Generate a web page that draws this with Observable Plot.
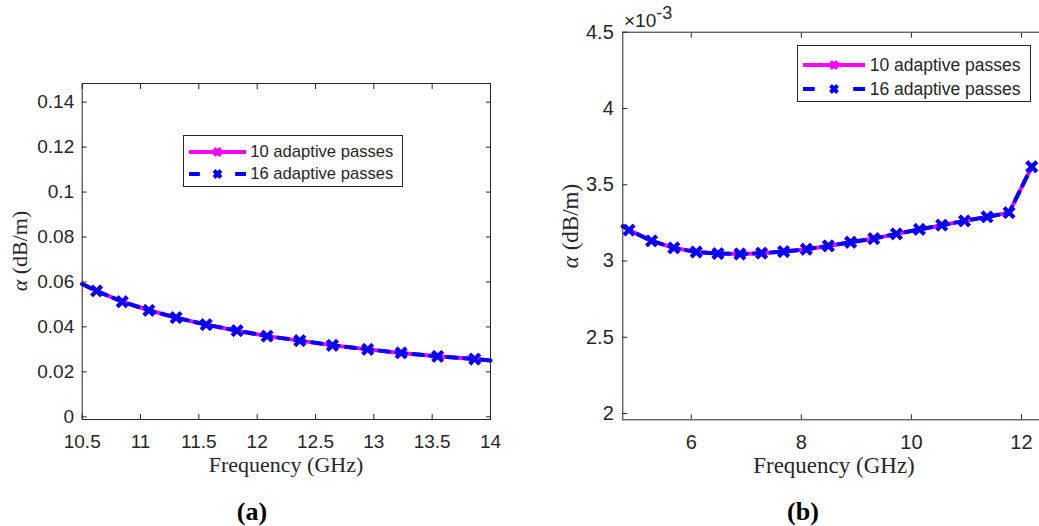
<!DOCTYPE html>
<html><head><meta charset="utf-8">
<script src="https://cdn.jsdelivr.net/npm/d3@7"></script>
<script src="https://cdn.jsdelivr.net/npm/@observablehq/plot@0.6"></script>
<style>
html,body{margin:0;padding:0;background:#fff;overflow:hidden;width:1039px;height:526px;}
#root{position:relative;width:1039px;height:526px;overflow:hidden;}
.abs{position:absolute;white-space:nowrap;line-height:1;}
.serif{font-family:"Liberation Serif","Times New Roman",serif;color:#262626;}
.ctr{transform:translate(-50%,-50%);}
.rot{transform:translate(-50%,-50%) rotate(-90deg);}
.legend{position:absolute;box-sizing:border-box;border:1px solid #262626;background:#fff;font-family:"Liberation Sans",Arial,sans-serif;color:#262626;}
.legend .row{position:absolute;left:0;display:flex;align-items:center;}
.legend svg{display:block;overflow:visible;}
</style>
</head><body><div id="root"></div>
<script>
// ---------- Panel (a) data ----------
const freqA = [10.5, 10.623, 10.843, 11.071, 11.305, 11.563, 11.828, 12.085, 12.365, 12.645, 12.947, 13.234, 13.547, 13.865, 14.0];
const alphaA10 = [0.0591, 0.0560, 0.0512, 0.0474, 0.0441, 0.0410, 0.0383, 0.0359, 0.0339, 0.0318, 0.0300, 0.0284, 0.0269, 0.0257, 0.0251];
const alphaA16 = [0.0591, 0.0560, 0.0512, 0.0474, 0.0441, 0.0410, 0.0383, 0.0359, 0.0339, 0.0318, 0.0300, 0.0284, 0.0269, 0.0257, 0.0251];
const markerA = [0, 1, 1, 1, 1, 1, 1, 1, 1, 1, 1, 1, 1, 1, 0];
const xTicksA = [10.5, 11, 11.5, 12, 12.5, 13, 13.5, 14];
const yTicksA = [0, 0.02, 0.04, 0.06, 0.08, 0.1, 0.12, 0.14];

// ---------- Panel (b) data (dB/m) ----------
const freqB = [4.756, 4.87, 5.278, 5.684, 6.091, 6.484, 6.884, 7.278, 7.678, 8.091, 8.491, 8.896, 9.315, 9.727, 10.145, 10.551, 10.964, 11.375, 11.775, 12.187];
const alphaB10 = [3.228e-3, 3.203e-3, 3.132e-3, 3.086e-3, 3.059e-3, 3.049e-3, 3.046e-3, 3.051e-3, 3.062e-3, 3.077e-3, 3.099e-3, 3.123e-3, 3.147e-3, 3.178e-3, 3.207e-3, 3.235e-3, 3.263e-3, 3.289e-3, 3.317e-3, 3.618e-3];
const alphaB16 = [3.228e-3, 3.203e-3, 3.132e-3, 3.086e-3, 3.059e-3, 3.049e-3, 3.046e-3, 3.051e-3, 3.062e-3, 3.077e-3, 3.099e-3, 3.123e-3, 3.147e-3, 3.178e-3, 3.207e-3, 3.235e-3, 3.263e-3, 3.289e-3, 3.317e-3, 3.618e-3];
const markerB = [0, 1, 1, 1, 1, 1, 1, 1, 1, 1, 1, 1, 1, 1, 1, 1, 1, 1, 1, 1];
const xTicksB = [6, 8, 10, 12];
const yTicksB = [2.0e-3, 2.5e-3, 3.0e-3, 3.5e-3, 4.0e-3, 4.5e-3];

const seriesNames = ["10 adaptive passes", "16 adaptive passes"];
const MAGENTA = "#ff00ff", BLUE = "#0000ff", AX = "#262626";

function panel(o) {
  const d10 = o.freq.map((f, i) => ({f, a: o.s10[i], m: o.mk[i]}));
  const d16 = o.freq.map((f, i) => ({f, a: o.s16[i], m: o.mk[i]}));
  return Plot.plot({
    width: o.width, height: o.height,
    marginLeft: o.ml, marginRight: o.mr, marginTop: o.mt, marginBottom: o.mb,
    style: {fontFamily: "Liberation Sans, Arial, sans-serif", fontSize: o.fs + "px", color: AX, background: "transparent", overflow: "visible"},
    x: {domain: o.xDomain},
    y: {domain: o.yDomain},
    marks: [
      Plot.line(d10, {x: "f", y: "a", stroke: MAGENTA, strokeWidth: 4}),
      Plot.dot(d10.filter(d => d.m), {x: "f", y: "a", symbol: "times", r: 4.6, stroke: MAGENTA, strokeWidth: 4}),
      Plot.line(d16, {x: "f", y: "a", stroke: BLUE, strokeWidth: 4, strokeDasharray: "10,7"}),
      Plot.dot(d16.filter(d => d.m), {x: "f", y: "a", symbol: "times", r: 4.6, stroke: BLUE, strokeWidth: 4}),
      Plot.axisX({anchor: "bottom", ticks: o.xTicks, tickSize: -5, tickPadding: o.xPad + 5, label: null, tickFormat: d => d3.format("~g")(d), stroke: AX}),
      Plot.axisX({anchor: "top", ticks: o.xTicks, tickSize: -5, tickFormat: () => "", label: null, stroke: AX}),
      Plot.axisY({anchor: "left", ticks: o.yTicks, tickSize: -5, tickPadding: o.yPad + 5, label: null, tickFormat: o.yFmt, stroke: AX}),
      Plot.axisY({anchor: "right", ticks: o.yTicks, tickSize: -5, tickFormat: () => "", label: null, stroke: AX}),
      Plot.frame({stroke: AX, strokeWidth: 1})
    ]
  });
}

const root = document.getElementById("root");
function place(el, left, top) {
  el.style.position = "absolute"; el.style.left = left + "px"; el.style.top = top + "px";
  root.appendChild(el);
}

// Panel (a): frame x 81.7..490, y 83..419
const pa = panel({
  freq: freqA, s10: alphaA10, s16: alphaA16, mk: markerA,
  xDomain: [10.5, 14], yDomain: [-0.0012, 0.1483],
  xTicks: xTicksA, yTicks: yTicksA, yFmt: d => d3.format("~g")(d),
  width: 520, height: 460, ml: 81.7, mr: 30, mt: 83, mb: 41, fs: 19, xPad: 15, yPad: 8
});
place(pa, 0, 0);

// Panel (b): frame x 622.3..1045, y 31.7..419.3
const pb = panel({
  freq: freqB, s10: alphaB10, s16: alphaB16, mk: markerB,
  xDomain: [4.756, 12.442], yDomain: [1.959e-3, 4.5e-3],
  xTicks: xTicksB, yTicks: yTicksB, yFmt: d => d3.format("~g")(+(d * 1e3).toFixed(3)),
  width: 540, height: 460, ml: 102.3, mr: 14.7, mt: 31.7, mb: 40.7, fs: 20, xPad: 15, yPad: 9
});
place(pb, 520, 0);

function label(html, cls, x, y, size, extra) {
  const el = document.createElement("div");
  el.className = "abs serif " + cls;
  el.innerHTML = html;
  el.style.left = x + "px"; el.style.top = y + "px"; el.style.fontSize = size + "px";
  if (extra) Object.assign(el.style, extra);
  root.appendChild(el);
}
const alphaLabel = '<i>α</i> (dB/m)';
label("Frequency (GHz)", "ctr", 286, 465, 22);
label("Frequency (GHz)", "ctr", 834, 465, 23);
label(alphaLabel, "rot", 20, 251, 22);
label(alphaLabel, "rot", 570, 225.5, 23);
label("(a)", "ctr", 252, 512, 26, {fontWeight: "bold", color: "#000"});
label("(b)", "ctr", 803, 512, 26, {fontWeight: "bold", color: "#000"});

// exponent label
const ex = document.createElement("div");
ex.className = "abs";
ex.style.cssText = "left:624px;top:11px;font-family:'Liberation Sans',Arial,sans-serif;font-size:19px;color:#262626;";
ex.innerHTML = '×10<span style="position:relative;top:-8px;font-size:18px;">-3</span>';
root.appendChild(ex);

// legends
function legend(x, y, w, h, rows, lineLen, fs, gap) {
  const box = document.createElement("div");
  box.className = "legend";
  Object.assign(box.style, {left: x + "px", top: y + "px", width: w + "px", height: h + "px", fontSize: fs + "px"});
  rows.forEach((r, i) => {
    const row = document.createElement("div");
    row.className = "row";
    row.style.top = r.cy - y - 10 + "px";
    row.style.height = "20px";
    row.style.left = "5px";
    const dash = r.dashed ? `stroke-dasharray="${lineLen * 0.19},${lineLen * 0.62},${lineLen * 0.19}"` : "";
    const m = lineLen / 2;
    row.innerHTML = `<svg width="${lineLen}" height="20"><line x1="0" y1="10" x2="${lineLen}" y2="10" stroke="${r.color}" stroke-width="4" ${dash}/><path d="M${m - 3.5},6.5L${m + 3.5},13.5M${m - 3.5},13.5L${m + 3.5},6.5" stroke="${r.color}" stroke-width="4" fill="none"/></svg><span style="margin-left:${gap}px;line-height:20px;">${r.name}</span>`;
    box.appendChild(row);
  });
  root.appendChild(box);
}
legend(183.3, 135, 219.4, 52.3, [
  {name: seriesNames[0], color: MAGENTA, cy: 150.7, dashed: false},
  {name: seriesNames[1], color: BLUE, cy: 173.3, dashed: true}
], 57, 16.6, 4);
legend(796.7, 45, 234, 56.7, [
  {name: seriesNames[0], color: MAGENTA, cy: 64, dashed: false},
  {name: seriesNames[1], color: BLUE, cy: 87.7, dashed: true}
], 62, 17.5, 5);
</script>
</body></html>
